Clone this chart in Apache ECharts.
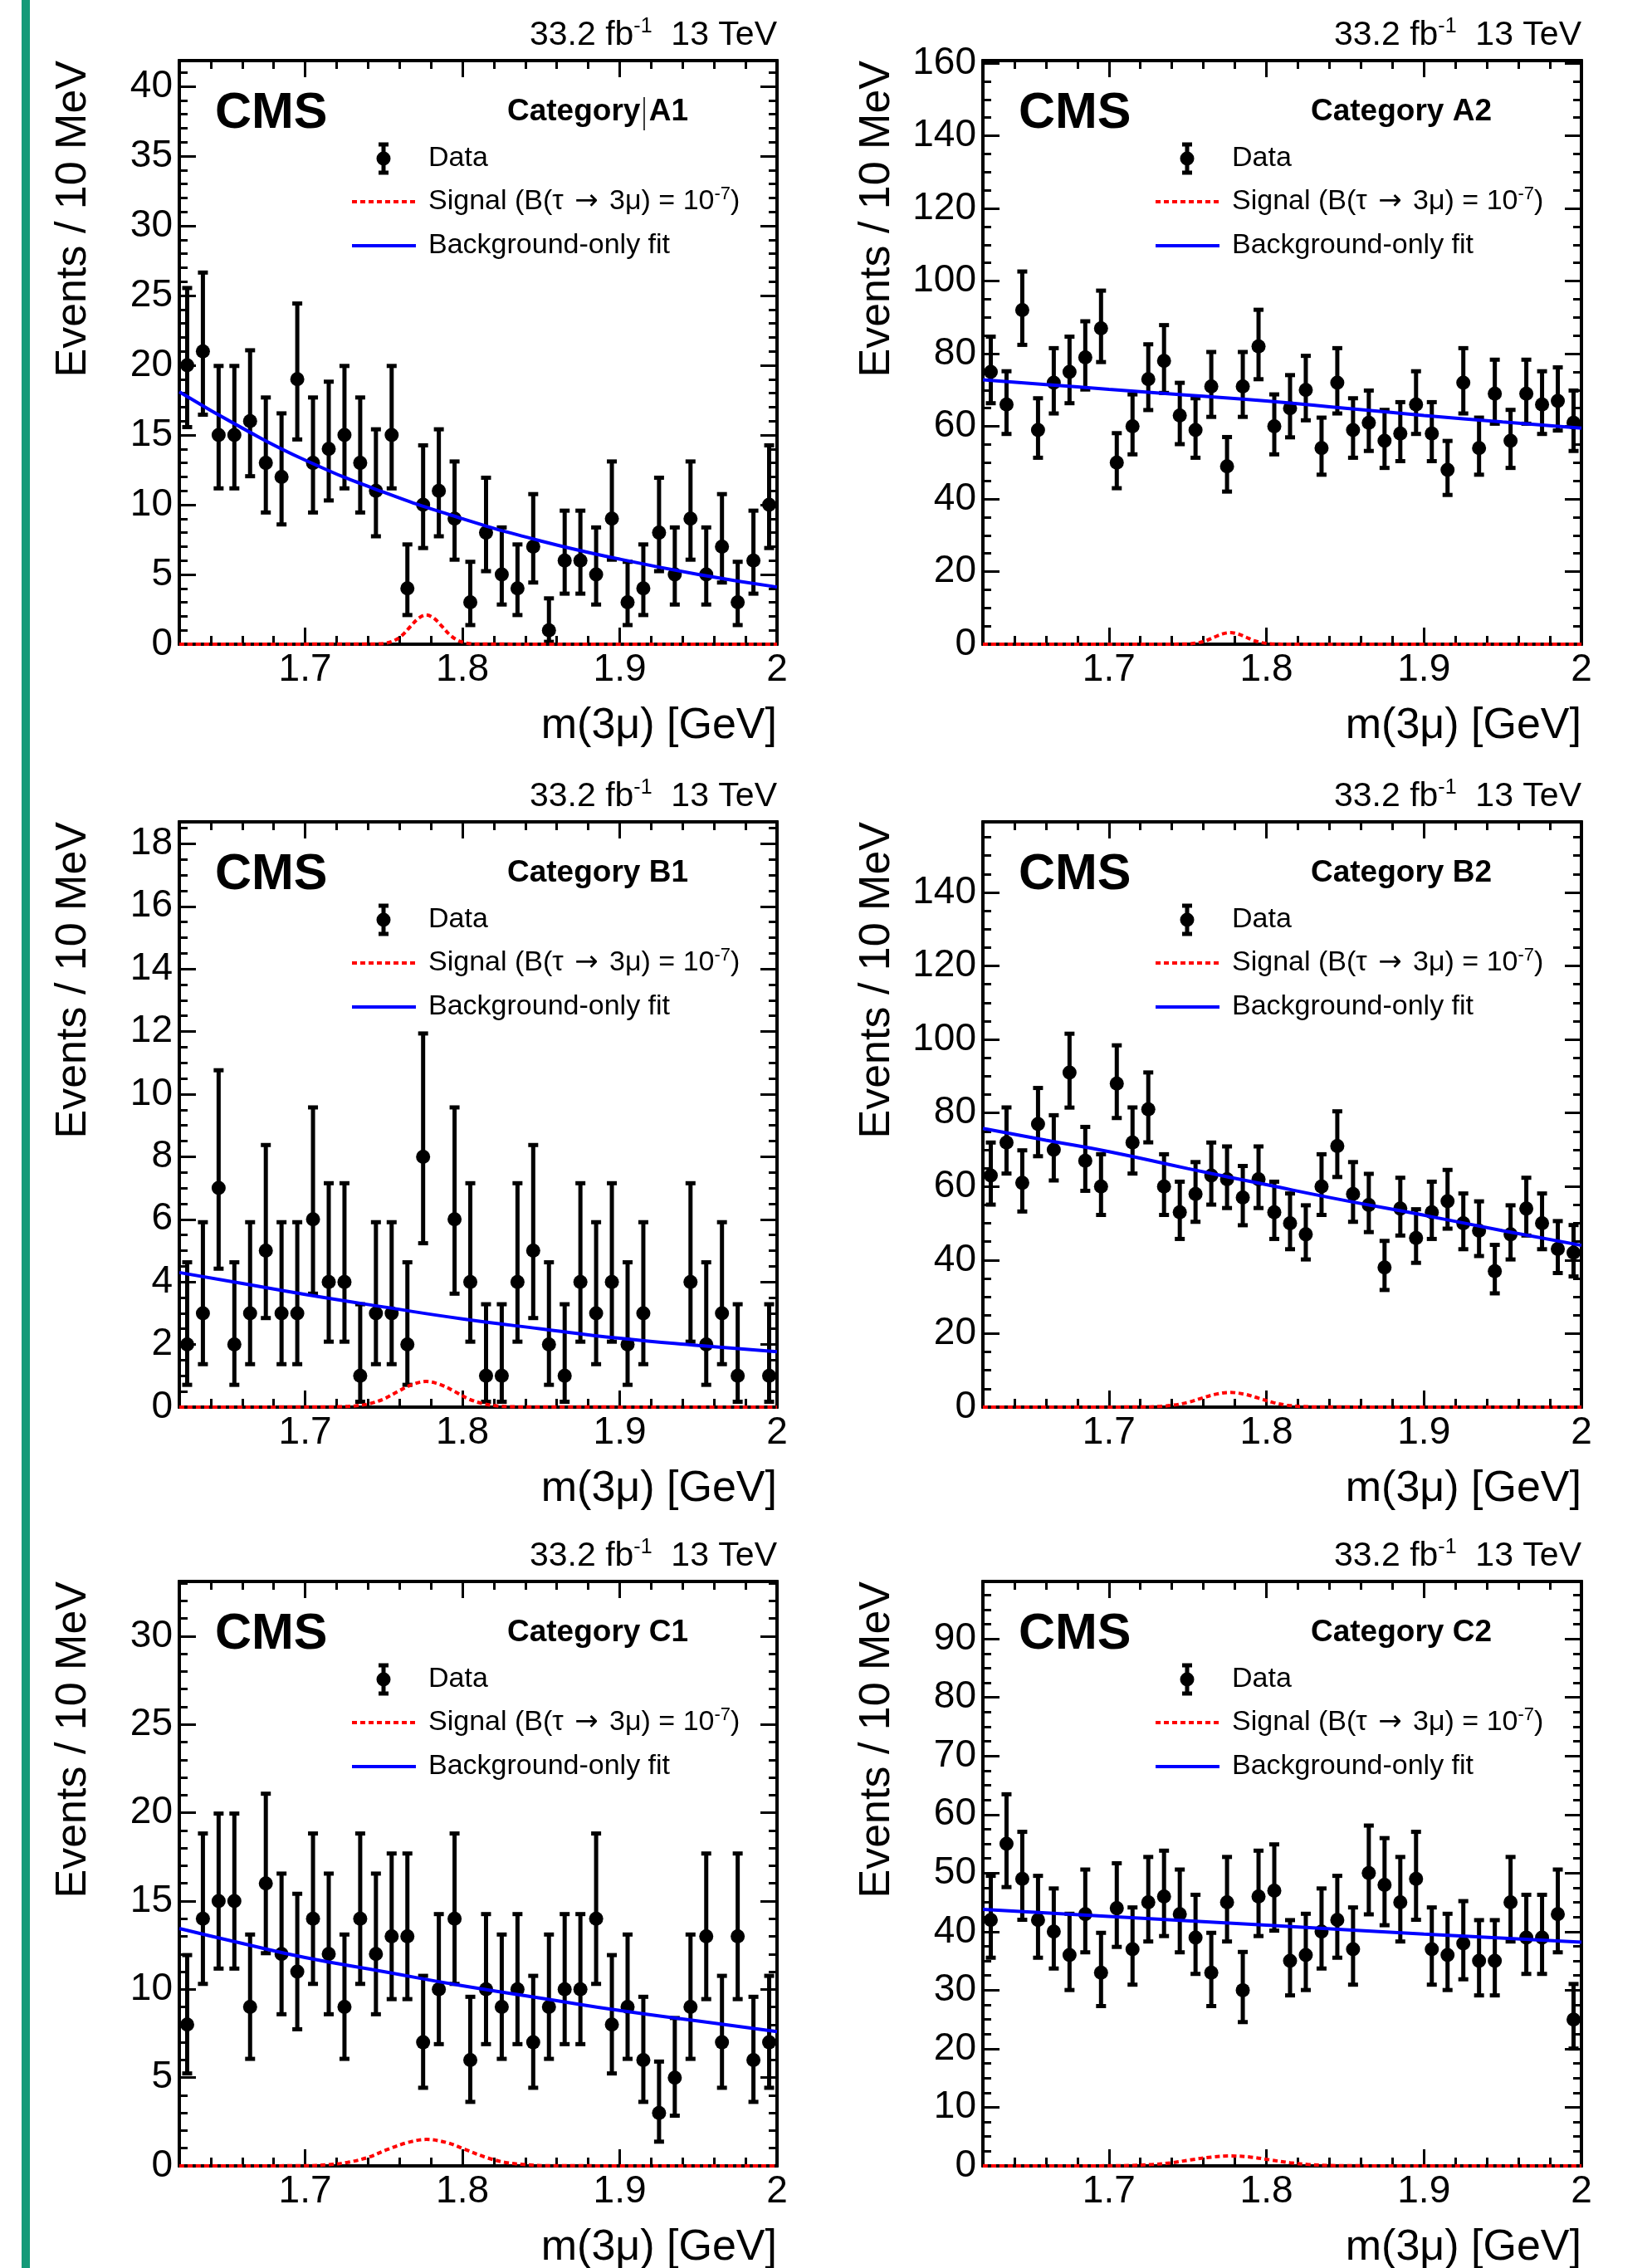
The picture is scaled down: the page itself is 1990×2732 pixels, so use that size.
<!DOCTYPE html>
<html>
<head>
<meta charset="utf-8">
<title>m(3mu) fits, categories A1-C2</title>
<script src="https://cdn.jsdelivr.net/npm/echarts@6/dist/echarts.min.js"></script>
<style>
  html, body { margin: 0; padding: 0; background: #fff; }
  #chart { width: 1990px; height: 2732px; }
</style>
</head>
<body>
<div id="chart"></div>
<script>
// 10 MeV bins between 1.62 and 2.00 GeV (bin centres)
const massBins = [1.625, 1.635, 1.645, 1.655, 1.665, 1.675, 1.685, 1.695, 1.705, 1.715,
  1.725, 1.735, 1.745, 1.755, 1.765, 1.775, 1.785, 1.795, 1.805, 1.815,
  1.825, 1.835, 1.845, 1.855, 1.865, 1.875, 1.885, 1.895, 1.905, 1.915,
  1.925, 1.935, 1.945, 1.955, 1.965, 1.975, 1.985, 1.995];

// events per bin
const countsA1 = [20, 21, 15, 15, 16, 13, 12, 19, 13, 14, 15, 13, 11, 15, 4, 10, 11, 9, 3, 8,
  5, 4, 7, 1, 6, 6, 5, 9, 3, 4, 8, 5, 9, 5, 7, 3, 6, 10];
const countsA2 = [75, 66, 92, 59, 72, 75, 79, 87, 50, 60, 73, 78, 63, 59, 71, 49, 71, 82, 60, 65,
  70, 54, 72, 59, 61, 56, 58, 66, 58, 48, 72, 54, 69, 56, 69, 66, 67, 61];
const countsB1 = [2, 3, 7, 2, 3, 5, 3, 3, 6, 4, 4, 1, 3, 3, 2, 8, 0, 6, 4, 1,
  1, 4, 5, 2, 1, 4, 3, 4, 2, 3, 0, 0, 4, 2, 3, 1, 0, 1];
const countsB2 = [63, 72, 61, 77, 70, 91, 67, 60, 88, 72, 81, 60, 53, 58, 63, 62, 57, 62, 53, 50,
  47, 60, 71, 58, 55, 38, 54, 46, 53, 56, 50, 48, 37, 47, 54, 50, 43, 42];
const countsC1 = [8, 14, 15, 15, 9, 16, 12, 11, 14, 12, 9, 14, 12, 13, 13, 7, 10, 14, 6, 10,
  9, 10, 7, 9, 10, 10, 14, 8, 9, 6, 3, 5, 9, 13, 7, 13, 6, 7];
const countsC2 = [42, 55, 49, 42, 40, 36, 43, 33, 44, 37, 45, 46, 43, 39, 33, 45, 30, 46, 47, 35,
  36, 40, 42, 37, 50, 48, 45, 49, 37, 36, 38, 35, 35, 45, 39, 39, 43, 25];

// background-only fit curves [mass, events]
const fitA1 = [[1.62, 18.1], [1.66, 15.5], [1.70, 13.2], [1.75, 10.9], [1.80, 9.0], [1.85, 7.4], [1.90, 6.1], [1.95, 5.0], [2.00, 4.1]];
const fitA2 = [[1.62, 72.8], [1.66, 71.5], [1.70, 70.2], [1.75, 68.6], [1.80, 67.0], [1.85, 65.0], [1.90, 63.0], [1.95, 61.2], [2.00, 59.5]];
const fitB1 = [[1.62, 4.3], [1.66, 3.95], [1.70, 3.6], [1.75, 3.2], [1.80, 2.82], [1.85, 2.5], [1.90, 2.2], [1.95, 1.97], [2.00, 1.77]];
const fitB2 = [[1.62, 75.8], [1.66, 72.6], [1.70, 69.5], [1.75, 64.9], [1.80, 60.5], [1.85, 56.2], [1.90, 52.2], [1.95, 48.0], [2.00, 44.0]];
const fitC1 = [[1.62, 13.45], [1.66, 12.6], [1.70, 11.8], [1.75, 11.0], [1.80, 10.2], [1.85, 9.5], [1.90, 8.8], [1.95, 8.2], [2.00, 7.6]];
const fitC2 = [[1.62, 43.8], [1.70, 42.6], [1.80, 41.1], [1.90, 39.6], [2.00, 38.2]];

// signal shapes for B(tau -> 3mu) = 1e-7
const signalA1 = [[1.62, 0], [1.745, 0.02], [1.752, 0.09], [1.757, 0.28], [1.762, 0.67], [1.767, 1.28], [1.772, 1.85], [1.777, 2.1],
  [1.782, 1.85], [1.787, 1.28], [1.792, 0.67], [1.797, 0.28], [1.802, 0.09], [1.81, 0.01], [2.0, 0]];
const signalA2 = [[1.62, 0], [1.745, 0.03], [1.752, 0.14], [1.757, 0.43], [1.762, 1.02], [1.767, 1.95], [1.772, 2.82], [1.777, 3.2],
  [1.782, 2.82], [1.787, 1.95], [1.792, 1.02], [1.797, 0.43], [1.802, 0.14], [1.81, 0.02], [2.0, 0]];
const signalB1 = [[1.62, 0], [1.72, 0.01], [1.732, 0.04], [1.741, 0.11], [1.75, 0.26], [1.759, 0.5], [1.768, 0.72], [1.777, 0.82],
  [1.786, 0.72], [1.795, 0.5], [1.804, 0.26], [1.813, 0.11], [1.822, 0.04], [1.834, 0.01], [2.0, 0]];
const signalB2 = [[1.62, 0], [1.72, 0.04], [1.732, 0.18], [1.741, 0.54], [1.75, 1.28], [1.759, 2.44], [1.768, 3.52], [1.777, 4.0],
  [1.786, 3.52], [1.795, 2.44], [1.804, 1.28], [1.813, 0.54], [1.822, 0.18], [1.834, 0.04], [2.0, 0]];
const signalC1 = [[1.62, 0], [1.70, 0.01], [1.715, 0.07], [1.727, 0.2], [1.74, 0.48], [1.752, 0.92], [1.765, 1.32], [1.777, 1.5],
  [1.79, 1.32], [1.802, 0.92], [1.815, 0.48], [1.827, 0.2], [1.84, 0.07], [1.855, 0.01], [2.0, 0]];
const signalC2 = [[1.62, 0], [1.70, 0.02], [1.715, 0.07], [1.727, 0.23], [1.74, 0.54], [1.752, 1.04], [1.765, 1.5], [1.777, 1.7],
  [1.79, 1.5], [1.802, 1.04], [1.815, 0.54], [1.827, 0.23], [1.84, 0.07], [1.855, 0.02], [2.0, 0]];

// axis ticks / labels
const xLabels = [1.7, 1.8, 1.9, 2.0];
const xMajorTicks = [1.7, 1.8, 1.9];
const xMinorTicks = [1.64, 1.66, 1.68, 1.72, 1.74, 1.76, 1.78, 1.82, 1.84, 1.86, 1.88, 1.92, 1.94, 1.96, 1.98];
const yTicksA1 = [0, 5, 10, 15, 20, 25, 30, 35, 40];
const yTicksA2 = [0, 20, 40, 60, 80, 100, 120, 140, 160];
const yTicksB1 = [0, 2, 4, 6, 8, 10, 12, 14, 16, 18];
const yTicksB2 = [0, 20, 40, 60, 80, 100, 120, 140];
const yTicksC1 = [0, 5, 10, 15, 20, 25, 30];
const yTicksC2 = [0, 10, 20, 30, 40, 50, 60, 70, 80, 90];

const panels = [
  { cat: 'A1', counts: countsA1, fit: fitA1, signal: signalA1, yTicks: yTicksA1, yMax: 41.85, minorDiv: 5 },
  { cat: 'A2', counts: countsA2, fit: fitA2, signal: signalA2, yTicks: yTicksA2, yMax: 160.7, minorDiv: 4 },
  { cat: 'B1', counts: countsB1, fit: fitB1, signal: signalB1, yTicks: yTicksB1, yMax: 18.7, minorDiv: 4 },
  { cat: 'B2', counts: countsB2, fit: fitB2, signal: signalB2, yTicks: yTicksB2, yMax: 159.2, minorDiv: 4 },
  { cat: 'C1', counts: countsC1, fit: fitC1, signal: signalC1, yTicks: yTicksC1, yMax: 33.1, minorDiv: 5 },
  { cat: 'C2', counts: countsC2, fit: fitC2, signal: signalC2, yTicks: yTicksC2, yMax: 99.8, minorDiv: 4 }
];

// page layout (pixels)
const colLeft = [216, 1184];
const colWidth = [720, 721];
const rowTop = [73, 990, 1905];
const rowHeight = [703, 705, 704];

const FONT = '"Liberation Sans", Arial, Helvetica, sans-serif';
const ARROW_FONT = '"DejaVu Sans", sans-serif';

// Garwood-style 68% Poisson interval (Wilson-Hilferty approximation), as ROOT draws data errors
function poissonLow(n) {
  if (n === 0) return 0;
  const a = 1 - 1 / (9 * n) - 1 / (3 * Math.sqrt(n));
  return n * a * a * a;
}
function poissonHigh(n) {
  const m = n + 1;
  const a = 1 - 1 / (9 * m) + 1 / (3 * Math.sqrt(m));
  return m * a * a * a;
}

function minorTicks(major, div, max) {
  const step = (major[1] - major[0]) / div;
  const out = [];
  for (let k = 1; k * step < max; k++) {
    if (k % div !== 0) out.push(Math.round(k * step * 1000) / 1000);
  }
  return out;
}

function xAxisDef(gi, pos, ticks, len, withLabels) {
  return {
    type: 'value', gridIndex: gi, position: pos, min: 1.62, max: 2.0,
    axisLine: { show: true, onZero: false, lineStyle: { color: '#000', width: 4 } },
    axisTick: { show: true, inside: true, length: len, customValues: ticks, lineStyle: { color: '#000', width: 3 } },
    axisLabel: withLabels
      ? { show: true, customValues: xLabels, margin: 8, fontSize: 46, color: '#000', fontFamily: FONT }
      : { show: false },
    splitLine: { show: false }
  };
}

function yAxisDef(gi, pos, max, ticks, labels, len) {
  return {
    type: 'value', gridIndex: gi, position: pos, min: 0, max: max,
    axisLine: { show: true, onZero: false, lineStyle: { color: '#000', width: 4 } },
    axisTick: { show: true, inside: true, length: len, customValues: ticks, lineStyle: { color: '#000', width: 3 } },
    axisLabel: labels
      ? { show: true, customValues: labels, margin: 8, fontSize: 46, color: '#000', fontFamily: FONT }
      : { show: false },
    splitLine: { show: false }
  };
}

function errorBarItem(params, api) {
  const x = api.value(0);
  const c = api.coord([x, api.value(1)]);
  const lo = api.coord([x, api.value(2)]);
  const hi = api.coord([x, api.value(3)]);
  const cap = 6;
  const st = { stroke: '#000', lineWidth: 5 };
  return {
    type: 'group',
    children: [
      { type: 'line', shape: { x1: c[0], y1: lo[1], x2: c[0], y2: hi[1] }, style: st },
      { type: 'line', shape: { x1: c[0] - cap, y1: hi[1], x2: c[0] + cap, y2: hi[1] }, style: st },
      { type: 'line', shape: { x1: c[0] - cap, y1: lo[1], x2: c[0] + cap, y2: lo[1] }, style: st },
      { type: 'circle', shape: { cx: c[0], cy: c[1], r: 8.5 }, style: { fill: '#000' } }
    ]
  };
}

const grids = [], xAxes = [], yAxes = [], series = [], graphics = [];

// green stripe on the left edge
graphics.push({ type: 'rect', x: 26, y: 0, shape: { width: 10, height: 2732 }, style: { fill: '#149a78' } });

panels.forEach((p, i) => {
  const col = i % 2, row = Math.floor(i / 2);
  const gl = colLeft[col], gt = rowTop[row], gw = colWidth[col], gh = rowHeight[row];
  const gr = gl + gw, gb = gt + gh;
  grids.push({ left: gl, top: gt, width: gw, height: gh, outerBoundsMode: 'none', containLabel: false });

  const yMinor = minorTicks(p.yTicks, p.minorDiv, p.yMax);
  xAxes.push(xAxisDef(i, 'bottom', xMajorTicks, 20, true));
  xAxes.push(xAxisDef(i, 'bottom', xMinorTicks, 10, false));
  xAxes.push(xAxisDef(i, 'top', xMajorTicks, 20, false));
  xAxes.push(xAxisDef(i, 'top', xMinorTicks, 10, false));
  yAxes.push(yAxisDef(i, 'left', p.yMax, p.yTicks, p.yTicks, 20));
  yAxes.push(yAxisDef(i, 'left', p.yMax, yMinor, null, 10));
  yAxes.push(yAxisDef(i, 'right', p.yMax, p.yTicks, null, 20));
  yAxes.push(yAxisDef(i, 'right', p.yMax, yMinor, null, 10));

  const rows = [];
  massBins.forEach((m, k) => {
    const n = p.counts[k];
    if (n > 0) rows.push([m, n, poissonLow(n), poissonHigh(n)]);
  });

  series.push({
    type: 'custom', xAxisIndex: 4 * i, yAxisIndex: 4 * i, z: 3,
    renderItem: errorBarItem, data: rows, clip: true
  });
  series.push({
    type: 'line', xAxisIndex: 4 * i, yAxisIndex: 4 * i, z: 4,
    data: p.signal, smooth: 0.35, showSymbol: false, symbol: 'none',
    lineStyle: { color: '#ff0000', width: 4, type: [6, 4] }
  });
  series.push({
    type: 'line', xAxisIndex: 4 * i, yAxisIndex: 4 * i, z: 4,
    data: p.fit, smooth: true, showSymbol: false, symbol: 'none',
    lineStyle: { color: '#0000ff', width: 4 }
  });

  // lumi / energy label above the frame
  graphics.push({
    type: 'text', x: gr, y: gt - 30,
    style: {
      text: '{a|33.2 fb}{s|-1}{a|  13 TeV}', align: 'right', verticalAlign: 'middle',
      rich: {
        a: { fontSize: 41, fontFamily: FONT, fill: '#000', lineHeight: 47 },
        s: { fontSize: 25, fontFamily: FONT, fill: '#000', lineHeight: 24, verticalAlign: 'top' }
      }
    }
  });
  graphics.push({
    type: 'text', x: gl + 43, y: gt + 64,
    style: { text: 'CMS', fontSize: 61, fontWeight: 'bold', fontFamily: FONT, fill: '#000', align: 'left', verticalAlign: 'middle' }
  });
  graphics.push({
    type: 'text', x: gl + 395, y: gt + 62,
    style: { text: 'Category ' + p.cat, fontSize: 37, fontWeight: 'bold', fontFamily: FONT, fill: '#000', align: 'left', verticalAlign: 'middle' }
  });
  if (p.cat === 'A1') {
    graphics.push({ type: 'line', shape: { x1: gl + 560, y1: gt + 44, x2: gl + 560, y2: gt + 84 }, style: { stroke: '#000', lineWidth: 1.5 } });
  }

  // legend
  const mx = gl + 246, my = gt + 118;
  const lst = { stroke: '#000', lineWidth: 5 };
  graphics.push({ type: 'line', shape: { x1: mx, y1: my - 17, x2: mx, y2: my + 17 }, style: lst });
  graphics.push({ type: 'line', shape: { x1: mx - 6, y1: my - 17, x2: mx + 6, y2: my - 17 }, style: lst });
  graphics.push({ type: 'line', shape: { x1: mx - 6, y1: my + 17, x2: mx + 6, y2: my + 17 }, style: lst });
  graphics.push({ type: 'circle', shape: { cx: mx, cy: my, r: 8.5 }, style: { fill: '#000' } });
  graphics.push({
    type: 'line', shape: { x1: gl + 208, y1: gt + 170, x2: gl + 285, y2: gt + 170 },
    style: { stroke: '#ff0000', lineWidth: 4, lineDash: [6, 4] }
  });
  graphics.push({
    type: 'line', shape: { x1: gl + 208, y1: gt + 223, x2: gl + 285, y2: gt + 223 },
    style: { stroke: '#0000ff', lineWidth: 4 }
  });
  const legText = { fontSize: 34, fontFamily: FONT, fill: '#000', align: 'left', verticalAlign: 'middle' };
  graphics.push({ type: 'text', x: gl + 300, y: gt + 118, style: Object.assign({ text: 'Data' }, legText) });
  graphics.push({
    type: 'text', x: gl + 300, y: gt + 170,
    style: {
      text: '{a|Signal (B(τ }{r|→}{a| 3μ) = 10}{s|-7}{a|)}', align: 'left', verticalAlign: 'middle',
      rich: {
        a: { fontSize: 34, fontFamily: FONT, fill: '#000', lineHeight: 40 },
        r: { fontSize: 34, fontFamily: ARROW_FONT, fill: '#000', lineHeight: 40, padding: [0, 4, 0, 4] },
        s: { fontSize: 22, fontFamily: FONT, fill: '#000', lineHeight: 20, verticalAlign: 'top' }
      }
    }
  });
  graphics.push({ type: 'text', x: gl + 300, y: gt + 223, style: Object.assign({ text: 'Background-only fit' }, legText) });

  // axis titles
  graphics.push({
    type: 'text', x: gl - 127, y: gt, rotation: Math.PI / 2,
    style: { text: 'Events / 10 MeV', fontSize: 52, fontFamily: FONT, fill: '#000', align: 'right', verticalAlign: 'middle' }
  });
  graphics.push({
    type: 'text', x: gr, y: gb + 99,
    style: { text: 'm(3μ) [GeV]', fontSize: 52, fontFamily: FONT, fill: '#000', align: 'right', verticalAlign: 'middle' }
  });
});

const chart = echarts.init(document.getElementById('chart'), null, { renderer: 'canvas' });
chart.setOption({
  animation: false,
  backgroundColor: '#fff',
  grid: grids,
  xAxis: xAxes,
  yAxis: yAxes,
  series: series,
  graphic: { elements: graphics }
});
</script>
</body>
</html>
